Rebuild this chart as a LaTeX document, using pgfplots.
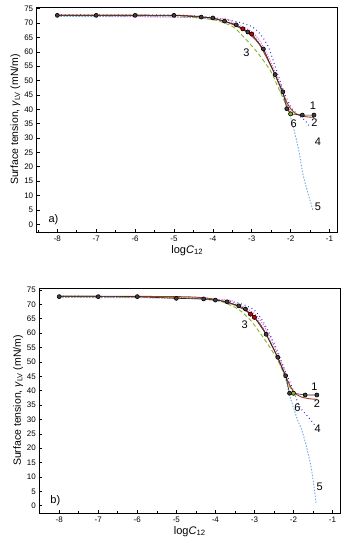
\documentclass[border=0pt]{standalone}
\usepackage{fontspec}
\setmainfont{Liberation Sans}
\usepackage{pgfplots}
\pgfplotsset{compat=1.18}
\definecolor{cbrown}{RGB}{160,60,30}
\definecolor{cgreen}{RGB}{130,180,40}
\definecolor{cblue}{RGB}{40,40,220}
\definecolor{ccyan}{RGB}{110,170,225}
\definecolor{cpink}{RGB}{255,90,200}
\tikzset{lbl/.style={font=\fontsize{11}{12}\selectfont}}
\pgfplotsset{
  panel/.style={
    scale only axis, width=301pt, height=225pt,
    anchor=south west,
    axis line style={line width=0.8pt},
    tick style={black, line width=0.6pt},
    tick align=inside,
    xtick={-8,-7,...,-1},
    minor xtick={-8.5,-7.5,...,-1.5},
    ytick={0,5,...,75},
    xtick pos=bottom, ytick pos=left,
    major tick length=3pt, minor tick length=2pt,
    ticklabel style={font=\fontsize{8}{9}\selectfont},
    /pgf/number format/assume math mode=true,
    xlabel={log\textit{C}\textsubscript{12}},
    ylabel={Surface tension, {\itshape γ}\textsubscript{LV} (mN/m)},
    xlabel style={font=\fontsize{11}{12}\selectfont, yshift=3pt},
    ylabel style={font=\fontsize{10.5}{12}\selectfont, yshift=-3pt},
    clip=false,
  },
  c1/.style={black!85, line width=0.6pt, mark=*, mark size=2pt, mark options={fill=black!75, draw=black, solid}},
  c2/.style={cbrown, line width=0.9pt, smooth},
  c3/.style={cgreen, line width=0.9pt, dash pattern=on 4pt off 2.5pt, smooth},
  c4/.style={cblue, line width=1.1pt, dash pattern=on 0.8pt off 3pt, smooth},
  c5/.style={ccyan, line width=0.9pt, dash pattern=on 1.5pt off 1.5pt, smooth},
  c6/.style={cpink, line width=1.0pt, dash pattern=on 1pt off 1.5pt, smooth},
}
\begin{document}
\begin{tikzpicture}
\useasboundingbox (0,0) rectangle (346pt,-550pt);
% ---------------- panel a
\begin{axis}[panel, at={(36.7pt,-232pt)},
  xmin=-8.53, xmax=-0.79, ymin=-2.7, ymax=75.6]
\addplot[c5] coordinates {(-8,72.3)(-5,72.1)(-4,71.3)(-3.5,69.8)(-3.0,66.3)(-2.7,60.5)(-2.4,52)(-2.2,45)(-2.03,38.7)(-1.81,27)(-1.67,16.6)(-1.43,5.0)};
\addplot[c4] coordinates {(-8,72.9)(-5,72.8)(-4.5,72.5)(-4,71.9)(-3.5,70.8)(-3.2,69.8)(-3.0,68.8)(-2.8,66.5)(-2.58,61.9)(-2.37,53.8)(-2.16,45.6)(-2.0,41)(-1.9,39.2)(-1.75,37.5)(-1.64,36.3)(-1.5,33.8)};
\addplot[c6] coordinates {(-8,72.7)(-4,71.8)(-3.5,70.2)(-3.2,68.5)(-3,67)(-2.8,64)(-2.6,59)(-2.4,53)(-2.2,46.5)(-2.1,42)(-2.0,39)};
\addplot[c3] coordinates {(-8,72.6)(-5,72.5)(-4.5,72)(-4,71.2)(-3.7,70)(-3.44,68.3)(-3.14,64.2)(-2.9,60.5)(-2.71,57.2)(-2.5,53)(-2.37,49.1)(-2.2,44)(-2.1,41)(-2.0,38.5)};
\addplot[c2] coordinates {(-8,72.8)(-5,72.7)(-4.3,72.2)(-4,71.6)(-3.7,70.6)(-3.4,69.0)(-3.2,67.5)(-3,65.5)(-2.8,62.5)(-2.6,57.5)(-2.4,52)(-2.2,45.5)(-2.1,42.5)(-2,40.2)(-1.9,38.8)(-1.8,38)(-1.6,37.4)(-1.4,37.2)};
\addplot[c1] coordinates {(-8,72.7)(-7,72.7)(-6,72.7)(-5,72.7)(-4.3,72.1)(-4,71.8)(-3.7,70.7)(-3.4,69.4)(-3.23,68.0)(-3.1,66.9)(-3.0,66.2)(-2.7,61.0)(-2.4,52.1)(-2.2,46.1)(-2.1,40.2)(-2.0,38.4)(-1.7,38.0)(-1.4,38.0)};
\addplot[only marks, mark=*, mark size=2pt, mark options={fill=red!80!black, draw=black}] coordinates {(-3.23,68.0)(-3.0,66.2)};
\addplot[only marks, mark=*, mark size=2pt, mark options={fill=cgreen, draw=black}] coordinates {(-2.0,38.4)};
\node[lbl] at (axis cs:-1.43,41.2) {1};
\node[lbl] at (axis cs:-1.39,35.4) {2};
\node[lbl] at (axis cs:-3.14,59.8) {3};
\node[lbl] at (axis cs:-1.30,28.8) {4};
\node[lbl] at (axis cs:-1.30,6.1) {5};
\node[lbl] at (axis cs:-1.92,34.9) {6};
\node[lbl] at (axis cs:-8.1,1.5) {a)};
\end{axis}
% ---------------- panel b
\begin{axis}[panel, at={(39.3pt,-513pt)},
  xmin=-8.51, xmax=-0.80, ymin=-2.54, ymax=75.7]
\addplot[c5] coordinates {(-8,72.4)(-5,72.2)(-4,71.3)(-3.5,69.8)(-3.0,65.8)(-2.7,60)(-2.4,51.5)(-2.2,44)(-2.1,38.5)(-1.9,30)(-1.76,25.2)(-1.55,13.6)(-1.42,0.8)};
\addplot[c4] coordinates {(-8,72.9)(-5,72.4)(-4,71.8)(-3.5,70.8)(-3.2,69.5)(-3,68)(-2.8,64.5)(-2.6,59.5)(-2.4,53.5)(-2.2,46.5)(-2.0,40)(-1.84,34.4)(-1.6,30.5)(-1.42,27.5)};
\addplot[c6] coordinates {(-8,72.8)(-4,71.8)(-3.5,70.3)(-3.2,68.6)(-3,66.8)(-2.8,63.5)(-2.6,58.5)(-2.4,52.5)(-2.2,46)(-2.1,42)(-2.0,39.3)};
\addplot[c3] coordinates {(-8,72.6)(-5,72.4)(-4,71.4)(-3.7,70.2)(-3.4,68.2)(-3.1,64.5)(-2.8,59)(-2.6,55)(-2.4,50.5)(-2.2,44.5)(-2.1,41.5)(-2.0,39.0)};
\addplot[c2] coordinates {(-8,72.9)(-5,72.7)(-4.3,72.3)(-4,71.7)(-3.7,70.7)(-3.4,69.2)(-3.2,67.6)(-3,65.5)(-2.8,62)(-2.6,57)(-2.4,51.3)(-2.2,45)(-2.1,42)(-2,39.8)(-1.9,38.5)(-1.8,37.8)(-1.6,37.2)(-1.4,37.0)};
\addplot[c1] coordinates {(-8,72.7)(-7,72.7)(-6,72.7)(-5,72.1)(-4.3,71.9)(-4,71.5)(-3.7,70.9)(-3.4,69.5)(-3.23,68.4)(-3.1,66.6)(-3.0,65.5)(-2.7,59.6)(-2.4,51.6)(-2.2,45.2)(-2.1,39.1)(-2.0,39.1)(-1.7,38.5)(-1.4,38.5)};
\addplot[only marks, mark=*, mark size=2pt, mark options={fill=red!80!black, draw=black}] coordinates {(-3.1,66.6)(-3.0,65.5)};
\addplot[only marks, mark=*, mark size=2pt, mark options={fill=cgreen, draw=black}] coordinates {(-2.0,39.1)};
\node[lbl] at (axis cs:-1.46,41.4) {1};
\node[lbl] at (axis cs:-1.40,35.6) {2};
\node[lbl] at (axis cs:-3.25,62.8) {3};
\node[lbl] at (axis cs:-1.38,26.7) {4};
\node[lbl] at (axis cs:-1.33,6.6) {5};
\node[lbl] at (axis cs:-1.90,33.9) {6};
\node[lbl] at (axis cs:-8.1,1.6) {b)};
\end{axis}
\end{tikzpicture}
\end{document}
